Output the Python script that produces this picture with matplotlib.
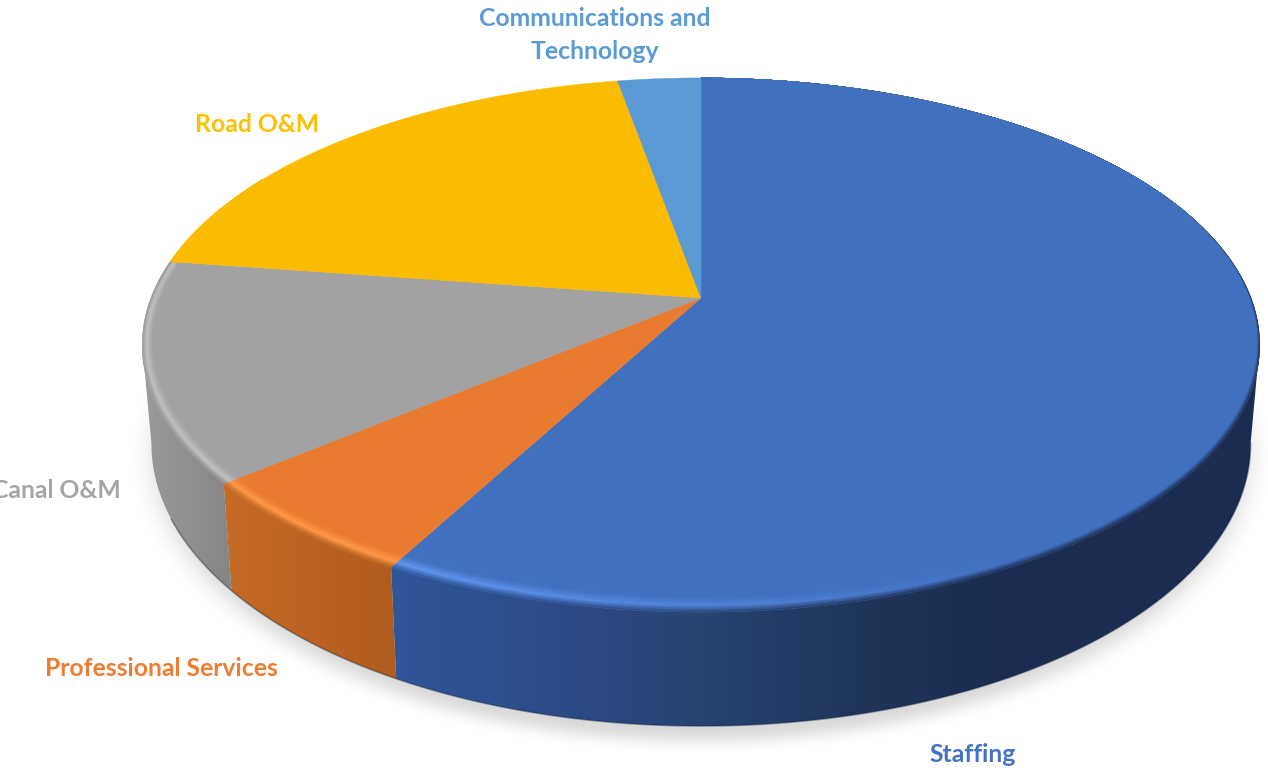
# -*- coding: utf-8 -*-
# pie 3D de despesas desenhado a mao, com parede lateral, chanfro e sombra
import matplotlib
matplotlib.use('Agg')
import matplotlib.pyplot as plt
from matplotlib.collections import PolyCollection
from matplotlib.colors import to_rgb
from matplotlib.patches import Polygon
import numpy as np

########DADOS

categorias = ['Staffing', 'Professional Services', 'Canal O&M', 'Road O&M', 'Communications and\nTechnology']
valores = [57.9, 6.1, 13.3, 19.85, 2.85]
cores = ['#4170BF', '#E97B30', '#A2A2A2', '#FBBC00', '#5A99D3']
cores_texto = ['#4472C4', '#ED7D31', '#A5A5A5', '#FFC000', '#5B9BD5']
brilhos = ['#6097F0', '#FF9B48', '#C2C2C2', '#FBBC00', '#5A99D3']

#cor da parede: (x, cor) de cada fatia que aparece na frente
parede_x = [[392, 560, 700, 850, 1000], [222, 398], [150, 230], [0, 1], [0, 1]]
parede_cor = [['#30579A', '#2B4B88', '#284272', '#21365C', '#1B2C50'],
              ['#C66B26', '#B05C1F'],
              ['#999999', '#858585'],
              ['#FBBC00', '#FBBC00'],
              ['#5A99D3', '#5A99D3']]

#posicao dos rotulos
rotulo_x = [973, 161, 121, 257, 595]
rotulo_y = [755, 668, 491, 125, 35]
rotulo_ha = ['center', 'center', 'right', 'center', 'center']

########GEOMETRIA

#centro da pizza na tela e perspectiva
x0, y0 = 701, 298
k = 0.176
A, B = 550, 258.8
#mesma projecao para o circulo de baixo
y0_base = 394.4
A_base, B_base = 541, 273.3


def projeta(theta, x_c, y_c, a, b, s=0.0):
    #theta em graus, horario a partir do topo
    u = np.sin(np.radians(theta))
    v = np.cos(np.radians(theta))
    w = 1 + k * v
    #s anda na direcao do centro, o chanfro e mais largo na frente
    f = 1 - s * (0.018 + 0.032 * v ** 2)
    return x_c + a * u / w * f, y_c - b * v / w * f


def topo(theta, s=0.0):
    return projeta(theta, x0, y0, A, B, s)


def base(theta):
    return projeta(theta, x0, y0_base, A_base, B_base)


def cor_parede(i, x):
    cs = np.array([to_rgb(c) for c in parede_cor[i]])
    return np.array([np.interp(x, parede_x[i], cs[:, j]) for j in range(3)])


limites = np.concatenate([[0], np.cumsum(valores)]) / np.sum(valores) * 360

########FIGURA

fig = plt.figure(figsize=(12.68, 7.71), dpi=100)
ax = fig.add_axes([0, 0, 1, 1])

#sombra no chao
xx, yy = np.meshgrid(np.arange(1268) + 0.5, np.arange(771) + 0.5)
rho = np.sqrt(((xx - 701) / 572) ** 2 + ((yy - 456) / 298) ** 2)
t = np.clip((1.0 - rho) / 0.085, 0, 1)
sombra = np.zeros((771, 1268, 4))
sombra[..., :3] = 0.45
sombra[..., 3] = 0.26 * t * t * (3 - 2 * t)
ax.imshow(sombra, extent=(0, 1268, 771, 0), aspect='auto', zorder=1, interpolation='bilinear')

#parede lateral: gradiente horizontal recortado pelo contorno de cada fatia
#so a parte da frente aparece, entre as tangentes em 100 e 260 graus
colunas = np.arange(1268) + 0.5
for i in range(3):
    thetas = np.linspace(max(limites[i], 100), min(limites[i + 1], 260), 200)
    grad = np.array([[cor_parede(i, x) for x in colunas]])
    tx, ty = topo(thetas)
    bx, by = base(thetas)
    contorno = np.column_stack([np.r_[tx, bx[::-1]], np.r_[ty, by[::-1]]])
    im = ax.imshow(grad, extent=(0, 1268, 771, 0), aspect='auto', zorder=2, interpolation='nearest')
    im.set_clip_path(Polygon(contorno, closed=True, transform=ax.transData))

#borda escura na base da parede
th = np.linspace(100, 245, 300)
bx, by = base(th)
ax.plot(bx, by, color='#14213C', alpha=0.4, lw=1.2, zorder=3)

#fatias de cima
for i in range(len(valores)):
    thetas = np.linspace(limites[i], limites[i + 1], 200)
    rx, ry = topo(thetas)
    ax.fill(np.r_[x0, rx], np.r_[y0, ry], color=cores[i], lw=0.3, zorder=4)


def largura_chanfro(theta):
    #o chanfro some no fundo da pizza
    return np.interp(theta, [0, 70, 110, 180, 280, 300, 360], [0.0, 0.1, 0.8, 1.0, 1.0, 0.0, 0.0])


def intensidade_brilho(theta):
    return np.interp(theta, [0, 150, 205, 280, 320, 360], [0, 0, 1, 1, 0, 0])


#chanfro na borda, do tom da parede ate o da fatia
quads, cores_q = [], []
niveis = np.linspace(0, 1, 11)
for i in range(len(valores)):
    thetas = np.arange(limites[i], limites[i + 1], 0.5)
    thetas = np.append(thetas, limites[i + 1])
    base_cor = np.array(to_rgb(cores[i]))
    brilho = np.array(to_rgb(brilhos[i]))
    for a1, a2 in zip(thetas[:-1], thetas[1:]):
        am = (a1 + a2) / 2
        wd = largura_chanfro(am)
        if wd <= 0:
            continue
        xm, ym = topo(am)
        meio = base_cor + (brilho - base_cor) * intensidade_brilho(am)
        ext = cor_parede(i, xm)
        #na parte de tras a borda externa fica so um pouco mais escura
        if am > 280:
            ext = meio
        for s1, s2 in zip(niveis[:-1], niveis[1:]):
            s = (s1 + s2) / 2
            if s < 0.45:
                c = ext + (meio - ext) * (s / 0.45)
            else:
                c = meio + (base_cor - meio) * ((s - 0.45) / 0.55)
            p1 = topo(a1, s1 * largura_chanfro(a1))
            p2 = topo(a2, s1 * largura_chanfro(a2))
            p3 = topo(a2, s2 * largura_chanfro(a2))
            p4 = topo(a1, s2 * largura_chanfro(a1))
            quads.append([p1, p2, p3, p4])
            cores_q.append(c)
ax.add_collection(PolyCollection(quads, facecolors=cores_q, edgecolors=cores_q, linewidths=0.3, zorder=5))

#rotulos
for i in range(len(categorias)):
    ax.text(rotulo_x[i], rotulo_y[i], categorias[i], color=cores_texto[i], fontsize=17.8, fontweight='bold',
            family='Lato', ha=rotulo_ha[i], va='center', linespacing=1.5, zorder=6)

ax.set_xlim(0, 1268)
ax.set_ylim(771, 0)
ax.axis('off')

fig.savefig('out.png', dpi=100)
